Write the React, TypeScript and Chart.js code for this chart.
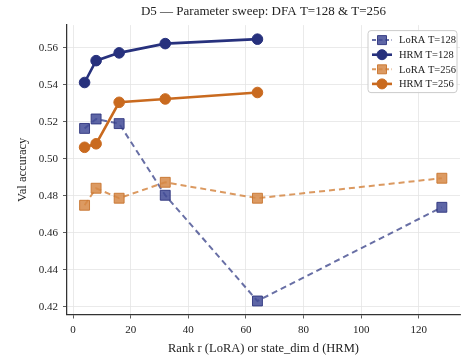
import React, { useEffect, useRef } from "react";
import { Chart, registerables } from "chart.js";

Chart.register(...registerables);

const loraRanks = [4, 8, 16, 32, 64, 128];
const hrmDims = [4, 8, 16, 32, 64];
const loraT128 = [0.5164, 0.5215, 0.519, 0.4803, 0.4232, 0.4738];
const hrmT128 = [0.5412, 0.553, 0.5572, 0.5622, 0.5646];
const loraT256 = [0.4749, 0.4841, 0.4787, 0.4873, 0.4787, 0.4895];
const hrmT256 = [0.5062, 0.5081, 0.5305, 0.5323, 0.5358];
const xTicks = [0, 20, 40, 60, 80, 100, 120];
const yTicks = [0.42, 0.44, 0.46, 0.48, 0.5, 0.52, 0.54, 0.56];

const titleText = "D5 — Parameter sweep: DFA T=128 & T=256";
const xLabel = "Rank r (LoRA) or state_dim d (HRM)";
const yLabel = "Val accuracy";
const seriesNames = ["LoRA T=128", "HRM T=128", "LoRA T=256", "HRM T=256"];

const FONT = "'Liberation Serif', 'DejaVu Serif', serif";

const styles = [
  { line: "rgba(62,70,140,0.78)", fill: "rgba(66,75,150,0.85)", edge: "rgba(45,52,125,0.9)", dash: [6, 4], width: 2, shape: "rect", r: 7 },
  { line: "#27317d", fill: "#27317d", edge: "#27317d", dash: [], width: 2.6, shape: "circle", r: 5.3 },
  { line: "rgba(213,135,68,0.85)", fill: "rgba(214,136,70,0.85)", edge: "rgba(200,115,45,0.9)", dash: [6, 4], width: 2, shape: "rect", r: 7 },
  { line: "#c96a1f", fill: "#c96a1f", edge: "#c96a1f", dash: [], width: 2.6, shape: "circle", r: 5.3 },
];

const toPts = (xs: number[], ys: number[]) => xs.map((x, i) => ({ x, y: ys[i] }));

const legendPlugin = {
  id: "mplLegend",
  afterDraw(chart: any) {
    const ctx = chart.ctx;
    const ca = chart.chartArea;
    const right = ca.right - 3;
    const top = ca.top + 5.5;
    const w = 89;
    const h = 62;
    const left = right - w;
    ctx.save();
    ctx.beginPath();
    const rr = 3;
    ctx.moveTo(left + rr, top);
    ctx.lineTo(right - rr, top);
    ctx.quadraticCurveTo(right, top, right, top + rr);
    ctx.lineTo(right, top + h - rr);
    ctx.quadraticCurveTo(right, top + h, right - rr, top + h);
    ctx.lineTo(left + rr, top + h);
    ctx.quadraticCurveTo(left, top + h, left, top + h - rr);
    ctx.lineTo(left, top + rr);
    ctx.quadraticCurveTo(left, top, left + rr, top);
    ctx.closePath();
    ctx.fillStyle = "rgba(255,255,255,0.85)";
    ctx.fill();
    ctx.strokeStyle = "#cccccc";
    ctx.lineWidth = 1;
    ctx.stroke();
    for (let i = 0; i < 4; i++) {
      const s = styles[i];
      const cy = top + 9.5 + i * 14.6;
      const x0 = left + 4;
      const x1 = left + 24;
      const cx = (x0 + x1) / 2;
      ctx.beginPath();
      ctx.setLineDash(s.dash.length ? [4, 2.5] : []);
      ctx.strokeStyle = s.line;
      ctx.lineWidth = s.width;
      ctx.moveTo(x0, cy);
      ctx.lineTo(x1, cy);
      ctx.stroke();
      ctx.setLineDash([]);
      ctx.fillStyle = s.fill;
      ctx.strokeStyle = s.edge;
      ctx.lineWidth = 1;
      ctx.beginPath();
      if (s.shape === "rect") {
        ctx.rect(cx - 4.5, cy - 4.5, 9, 9);
      } else {
        ctx.arc(cx, cy, 5, 0, Math.PI * 2);
      }
      ctx.fill();
      ctx.stroke();
      ctx.fillStyle = "#222";
      ctx.font = `10.5px ${FONT}`;
      ctx.textBaseline = "middle";
      ctx.textAlign = "left";
      ctx.fillText(seriesNames[i], left + 31, cy + 0.5);
    }
    ctx.restore();
  },
};

export default function App() {
  const ref = useRef<HTMLCanvasElement | null>(null);
  useEffect(() => {
    document.body.style.margin = "0";
    const canvas = ref.current!;
    const datasets = [
      { data: toPts(loraRanks, loraT128), s: styles[0], order: 4 },
      { data: toPts(hrmDims, hrmT128), s: styles[1], order: 3 },
      { data: toPts(loraRanks, loraT256), s: styles[2], order: 2 },
      { data: toPts(hrmDims, hrmT256), s: styles[3], order: 1 },
    ].map((d, i) => ({
      label: seriesNames[i],
      data: d.data,
      showLine: true,
      order: d.order,
      borderColor: d.s.line,
      borderWidth: d.s.width,
      borderDash: d.s.dash,
      pointStyle: d.s.shape,
      pointRadius: d.s.r,
      pointBackgroundColor: d.s.fill,
      pointBorderColor: d.s.edge,
      pointBorderWidth: 1,
      tension: 0,
    }));
    const chart = new Chart(canvas, {
      type: "scatter",
      data: { datasets: datasets as any },
      options: {
        animation: false,
        responsive: false,
        maintainAspectRatio: false,
        layout: { autoPadding: false, padding: { left: 0, right: 2, top: 0, bottom: 0 } },
        plugins: {
          legend: { display: false },
          tooltip: { enabled: false },
          title: {
            display: true,
            text: titleText,
            fullSize: false,
            color: "#222",
            font: { family: FONT, size: 13, weight: "normal" },
            padding: { top: 4, bottom: 5.5 },
          },
        },
        scales: {
          x: {
            type: "linear",
            min: -2.1,
            max: 134.3,
            afterBuildTicks: (scale: any) => {
              scale.ticks = xTicks.map((v) => ({ value: v }));
            },
            afterFit: (scale: any) => {
              scale.height = 45.5;
              scale.paddingLeft = 0;
              scale.paddingRight = 0;
            },
            ticks: {
              color: "#222",
              font: { family: FONT, size: 11 },
              padding: 5,
              maxRotation: 0,
              autoSkip: false,
            },
            grid: {
              color: "#e4e4e4",
              lineWidth: 0.8,
              tickColor: "#333",
              tickLength: 4,
              drawTicks: true,
            },
            border: { display: true, color: "#333", width: 1.25 },
            title: {
              display: true,
              text: xLabel,
              color: "#222",
              font: { family: FONT, size: 12.5 },
              padding: { top: 4, bottom: 4 },
            },
          },
          y: {
            type: "linear",
            min: 0.4159,
            max: 0.5722,
            afterBuildTicks: (scale: any) => {
              scale.ticks = yTicks.map((v) => ({ value: v }));
            },
            afterFit: (scale: any) => {
              scale.width = 67;
              scale.paddingTop = 0;
              scale.paddingBottom = 0;
            },
            ticks: {
              color: "#222",
              font: { family: FONT, size: 11 },
              padding: 5,
              autoSkip: false,
              callback: (v: any) => Number(v).toFixed(2),
            },
            grid: {
              color: "#e4e4e4",
              lineWidth: 0.8,
              tickColor: "#333",
              tickLength: 4,
              drawTicks: true,
            },
            border: { display: true, color: "#333", width: 1.25 },
            title: {
              display: true,
              text: yLabel,
              color: "#222",
              font: { family: FONT, size: 12.5 },
              padding: { top: 15, bottom: 4 },
            },
          },
        },
      },
      plugins: [legendPlugin],
    } as any);
    return () => chart.destroy();
  }, []);
  return <canvas ref={ref} width={462} height={360} style={{ display: "block" }} />;
}
